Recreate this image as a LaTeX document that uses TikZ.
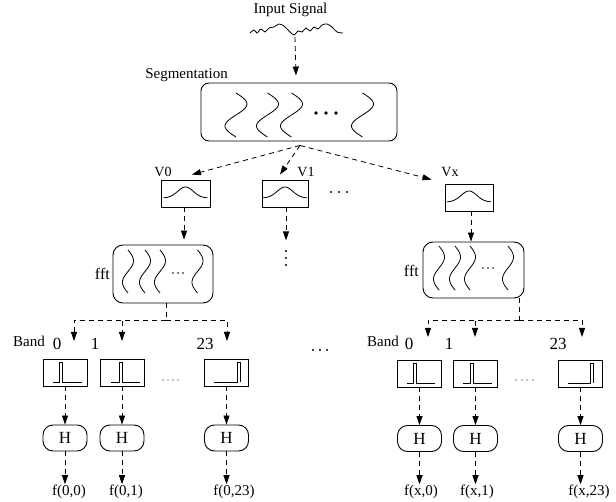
\documentclass[tikz,border=0pt]{standalone}
\usepackage{fontspec}
\setmainfont{Liberation Serif}
\usetikzlibrary{arrows.meta,calc}
\begin{document}
\begin{tikzpicture}[x=1pt,y=-1pt,
  box/.style={draw, line width=0.9pt, inner sep=0pt},
  rbox/.style={box, rounded corners=#1},
  rbox/.default=8pt,
  lbl/.style={inner sep=0pt, font=\fontsize{15}{18}\selectfont},
  numlbl/.style={inner sep=0pt, font=\fontsize{17}{20}\selectfont},
  vlbl/.style={inner sep=0pt, font=\fontsize{14}{17}\selectfont},
  arr/.style={line width=0.8pt, dash pattern=on 5pt off 4pt, -{Triangle[length=9pt,width=6pt]}},
  dl/.style={line width=0.8pt, dash pattern=on 5pt off 4pt},
  wave/.style={line width=0.8pt},
  bandbox/.style={box, minimum width=44pt, minimum height=27pt},
  hbox/.style={rbox=10pt, minimum width=44pt, minimum height=26pt, font=\fontsize{17}{20}\selectfont},
  vbox/.style={box, minimum height=27pt},
]
\useasboundingbox (0,0) rectangle (616,502);

% ---------- input signal ----------
\node[lbl, anchor=base] (insig) at (290.5,14) {Input Signal};
\draw[wave] plot[smooth] coordinates {(250,33) (254,30) (257,33) (261,29) (265,32) (269,28) (274,27) (279,24) (284,26) (289,31) (294,35) (298,31) (302,32) (306,28) (310,31) (314,27) (318,29) (322,25) (327,24) (332,27) (337,32) (343,33)};
\coordinate (wavept) at (295,37);

% ---------- segmentation ----------
\node[lbl, anchor=base] (seglbl) at (186.5,79) {Segmentation};
\node[rbox=8pt, minimum width=196pt, minimum height=58pt] (seg) at (299,112) {};
\foreach \cx in {236,267.5,291.5,362.5}
  \draw[wave] plot[domain=0:1,samples=40,smooth] ({\cx+11*sin(360*\x)},{93+44*\x});
\foreach \px in {316,326,336} \fill (\px,113) circle[radius=1.8pt];
\coordinate (segin) at ($(seg.north)+(-3,-7)$);
\draw[arr] (wavept) -- (segin);
\coordinate (segsrc) at ($(seg.south)+(1,4)$);

% ---------- windows ----------
\node[vbox, minimum width=49pt] (v0) at (185.5,193.5) {};
\node[vbox, minimum width=46pt] (v1) at (285,193.5) {};
\node[vbox, minimum width=48pt] (vx) at (469,197.5) {};
\foreach \cx/\cy in {185.5/193.5, 285/193.5, 469/197.5}
  \draw[wave] plot[domain=-22:22,samples=50,smooth] ({\cx+\x},{\cy+4.5-11*exp(0-(\x/11)*(\x/11))});
\node[vlbl, anchor=base] (v0lbl) at (163,177) {V0};
\node[vlbl, anchor=base] (v1lbl) at (306,177) {V1};
\node[vlbl, anchor=base] (vxlbl) at (450,177) {Vx};
\foreach \px in {331,339,347} \fill (\px,192) circle[radius=1.2pt];

\coordinate (v0in) at ($(v0.north)+(6.5,-5)$);
\coordinate (v1in) at ($(v1.north)+(-5,-5)$);
\coordinate (vxin) at ($(vx.north west)+(-13,-4)$);
\draw[arr] (segsrc) -- (v0in);
\draw[arr] (segsrc) -- (v1in);
\draw[arr] (segsrc) -- (vxin);

% ---------- fft boxes ----------
\node[rbox=10pt, minimum width=100pt, minimum height=58pt] (fftL) at (163,274) {};
\node[rbox=10pt, minimum width=101pt, minimum height=56pt] (fftR) at (473.5,270) {};
\node[inner sep=0pt, font=\fontsize{16}{19}\selectfont, anchor=base east] (fftLl) at (110,280) {fft};
\node[inner sep=0pt, font=\fontsize{16}{19}\selectfont, anchor=base east] (fftRl) at (419,277) {fft};
\foreach \cx in {128,145,160,197.5}
  \draw[wave] plot[domain=0:1,samples=40,smooth] ({\cx+5.5*sin(360*\x)},{250+43*\x});
\foreach \cx in {439,455,470,508}
  \draw[wave] plot[domain=0:1,samples=40,smooth] ({\cx+5.5*sin(360*\x)},{246+44*\x});
\foreach \px in {173,178,183} \fill (\px,273) circle[radius=0.8pt];
\foreach \px in {483,488,493} \fill (\px,268) circle[radius=0.8pt];

\coordinate (v0out) at ($(v0.south)+(-1.5,0)$);
\coordinate (v1out) at ($(v1.south)+(1,0)$);
\coordinate (vxout) at ($(vx.south)+(2,0)$);
\coordinate (v1end) at ($(v1out)+(0,33)$);
\draw[arr, shorten >=5pt] (v0out) -- (v0out |- fftL.north);
\draw[arr] (v1out) -- (v1end);
\foreach \py in {251,258,265} \fill (286,\py) circle[radius=1.2pt];
\draw[arr] (vxout) -- (vxout |- fftR.north);

% ---------- band split ----------
\coordinate (splitL) at (166,320);
\coordinate (splitR) at (519,320);
\draw[dl] (fftL.south -| splitL) -- (splitL);
\draw[dl] (fftR.south -| splitR) -- (splitR);
\coordinate (tL0) at (74,341);
\coordinate (tL1) at (122,341);
\coordinate (tL2) at (227,341);
\coordinate (tR0) at (428,337);
\coordinate (tR1) at (475,337);
\coordinate (tR2) at (582,337);
\foreach \t in {tL0,tL1,tL2} \draw[arr] (splitL) -| (\t);
\foreach \t in {tR0,tR1,tR2} \draw[arr] (splitR) -| (\t);

\node[lbl, anchor=base] (bandL) at (29,347) {Band};
\node[lbl, anchor=base] (bandR) at (383,347) {Band};
\node[numlbl, anchor=base] (nL0) at (57,350) {0};
\node[numlbl, anchor=base] (nL1) at (95,350) {1};
\node[numlbl, anchor=base] (nL2) at (205,350) {23};
\node[numlbl, anchor=base] (nR0) at (409,350) {0};
\node[numlbl, anchor=base] (nR1) at (449,350) {1};
\node[numlbl, anchor=base] (nR2) at (558,350) {23};
\foreach \px in {313,320,327} \fill (\px,350) circle[radius=1.1pt];

% ---------- band boxes ----------
\node[bandbox] (bL0) at (65,372.5) {};
\node[bandbox] (bL1) at (122,372.5) {};
\node[bandbox] (bL2) at (226.5,372.5) {};
\node[bandbox] (bR0) at (419.5,373.5) {};
\node[bandbox] (bR1) at (475.5,373.5) {};
\node[bandbox] (bR2) at (580.5,373.5) {};
\foreach \cx/\cy/\a/\p/\b in {65/372.5/-12/-6/17, 122/372.5/-11/-3/18, 226.5/372.5/-12.5/10.5/13.5, 419.5/373.5/-12.5/-6/15.5, 475.5/373.5/-12.5/-5/16.5, 580.5/373.5/-12.5/9.5/12.5}
  \draw[wave] ({\cx+(\a)},{\cy+9.5}) -- ({\cx+(\p)},{\cy+9.5}) -- ({\cx+(\p)},{\cy-10.5}) -- ({\cx+(\p)+3},{\cy-10.5}) -- ({\cx+(\p)+3},{\cy+9.5}) -- ({\cx+(\b)},{\cy+9.5});
\foreach \px in {163,168,173,178} \fill (\px,380) circle[radius=0.7pt];
\foreach \px in {516,522,527,533} \fill (\px,380) circle[radius=0.7pt];

% ---------- H boxes ----------
\node[hbox] (hL0) at (65,438) {H};
\node[hbox] (hL1) at (122,438) {H};
\node[hbox] (hL2) at (226.5,438) {H};
\node[hbox] (hR0) at (419.5,438.5) {H};
\node[hbox] (hR1) at (475.5,438.5) {H};
\node[hbox] (hR2) at (580.5,438.5) {H};

% ---------- outputs ----------
\node[lbl, anchor=base] (fL0) at (69,495) {f(0,0)};
\node[lbl, anchor=base] (fL1) at (126,495) {f(0,1)};
\node[lbl, anchor=base] (fL2) at (234,495) {f(0,23)};
\node[lbl, anchor=base] (fR0) at (421,495) {f(x,0)};
\node[lbl, anchor=base] (fR1) at (477,495) {f(x,1)};
\node[lbl, anchor=base] (fR2) at (589,495) {f(x,23)};

\foreach \i in {L0,L1,L2,R0,R1,R2} {
  \draw[arr] (b\i.south) -- (h\i.north);
  \draw[arr] (h\i.south) -- (h\i.south |- f\i.north);
}
\end{tikzpicture}
\end{document}
